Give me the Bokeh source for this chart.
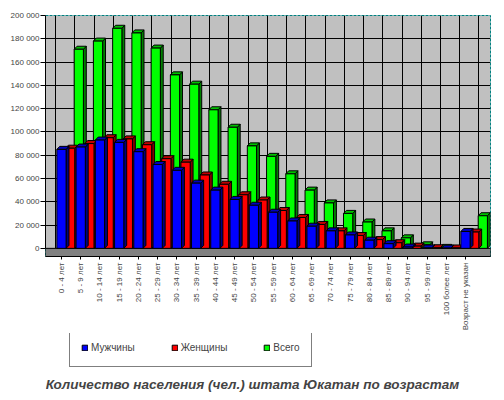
import math
from bokeh.plotting import figure
from bokeh.layouts import column
from bokeh.models import (ColumnDataSource, FixedTicker, Legend, LegendItem, Label, Range1d)
from bokeh.embed import file_html
from bokeh.resources import INLINE

# ---- data ----
categories = ["0 - 4 лет", "5 - 9 лет", "10 - 14 лет", "15 - 19 лет", "20 - 24 лет",
              "25 - 29 лет", "30 - 34 лет", "35 - 39 лет", "40 - 44 лет", "45 - 49 лет",
              "50 - 54 лет", "55 - 59 лет", "60 - 64 лет", "65 - 69 лет", "70 - 74 лет",
              "75 - 79 лет", "80 - 84 лет", "85 - 89 лет", "90 - 94 лет", "95 - 99 лет",
              "100 более лет", "Возраст не указан"]
men = [85000, 87000, 93000, 91000, 83000, 72000, 67000, 56000, 50000, 42000, 37000,
       31000, 23500, 19000, 15000, 11500, 7000, 4000, 1100, 300, 150, 14500]
women = [86000, 90000, 95000, 94000, 89000, 77000, 74000, 63000, 55000, 46000, 41500,
         32500, 26500, 20500, 15000, 11000, 7500, 4800, 1900, 500, 300, 14000]
total = [171000, 178000, 189000, 185000, 172000, 149000, 141000, 119000, 104000, 88000,
         79000, 64000, 50000, 39000, 30000, 22600, 15000, 9000, 3000, 800, 450, 28000]
series_names = ["Мужчины", "Женщины", "Всего"]
y_ticks = [0, 20000, 40000, 60000, 80000, 100000, 120000, 140000, 160000, 180000, 200000]
y_tick_labels = ["0", "20 000", "40 000", "60 000", "80 000", "100 000", "120 000",
                 "140 000", "160 000", "180 000", "200 000"]
title_text = "Количество населения (чел.) штата Юкатан по возрастам"

# ---- styling ----
front_colors = ["#0000FF", "#FF0000", "#00FF00"]
side_colors = ["#000080", "#800000", "#008000"]
top_colors = ["#0000C0", "#C00000", "#00C000"]
offsets = [0.0, 0.45, 0.9]       # depth shift of each series (category units)
bar_w = 0.48
depth_dx = 0.15
depth_dy = 2600
FONT = "Liberation Sans"
X0, X1 = -0.83, 22.3
Y0 = -7000

p = figure(width=496, height=333,
           x_range=Range1d(X0, X1), y_range=Range1d(Y0, 200000),
           output_backend="svg", toolbar_location=None,
           min_border_left=45, min_border_right=6, min_border_top=15, min_border_bottom=0,
           background_fill_color="#C0C0C0", border_fill_color="white")
p.outline_line_color = "#008080"
p.outline_line_dash = "3 1"

# wall grid
p.ygrid.ticker = FixedTicker(ticks=y_ticks)
p.ygrid.grid_line_color = "black"
p.ygrid.grid_line_width = 1
n = len(categories)
p.xgrid.ticker = FixedTicker(ticks=[i - 0.3 for i in range(n + 1)])
p.xgrid.grid_line_color = "black"

# floor strip
p.quad(left=[X0], right=[X1], bottom=[Y0], top=[0],
       fill_color="#808080", line_color="black", line_width=1)

series_values = [men, women, total]
sources = {}
for s in [2, 1, 0]:
    vals = series_values[s]
    centers = [i + offsets[s] for i in range(n)]
    side_xs, side_ys, top_xs, top_ys = [], [], [], []
    for c, v in zip(centers, vals):
        r = c + bar_w / 2
        l = c - bar_w / 2
        side_xs.append([r, r + depth_dx, r + depth_dx, r])
        side_ys.append([0, depth_dy, v + depth_dy, v])
        top_xs.append([l, r, r + depth_dx, l + depth_dx])
        top_ys.append([v, v, v + depth_dy, v + depth_dy])
    p.patches(side_xs, side_ys, fill_color=side_colors[s], line_color="black", line_width=1)
    p.patches(top_xs, top_ys, fill_color=top_colors[s], line_color="black", line_width=1)
    src = ColumnDataSource(dict(x=centers, top=vals))
    sources[s] = src
    p.vbar(x="x", top="top", bottom=0, width=bar_w, source=src,
           fill_color=front_colors[s], line_color="black", line_width=1)

# axes
p.yaxis.ticker = FixedTicker(ticks=y_ticks)
p.yaxis.major_label_overrides = {t: lab for t, lab in zip(y_ticks, y_tick_labels)}
p.yaxis.bounds = (0, 200000)
p.yaxis.major_tick_out = 5
p.yaxis.major_tick_in = 0
p.yaxis.minor_tick_line_color = None
p.yaxis.major_label_standoff = 1
p.yaxis.major_label_text_font = FONT
p.yaxis.major_label_text_font_size = "8px"
p.yaxis.axis_line_color = "black"

p.xaxis.ticker = FixedTicker(ticks=list(range(n)))
p.xaxis.major_label_overrides = {i: c for i, c in enumerate(categories)}
p.xaxis.major_label_orientation = math.pi / 2
p.xaxis.major_label_text_font = FONT
p.xaxis.major_label_text_font_size = "8px"
p.xaxis.major_label_standoff = 3
p.xaxis.major_tick_out = 3
p.xaxis.major_tick_in = 0
p.xaxis.minor_tick_line_color = None

# ---- legend + title strip below the chart ----
p2 = figure(width=496, height=59, x_range=Range1d(0, 1), y_range=Range1d(0, 1),
            output_backend="svg", toolbar_location=None,
            x_axis_location=None, y_axis_location=None,
            min_border_left=45, min_border_right=6, min_border_top=0, min_border_bottom=0,
            background_fill_color="white", border_fill_color="white")
p2.outline_line_color = None
p2.xgrid.visible = False
p2.ygrid.visible = False

# hidden proxies (same data sources) that only provide the legend swatches
proxies = []
for s in range(3):
    proxies.append(p2.vbar(x="x", top="top", bottom=0, width=bar_w, source=sources[s],
                           fill_color=front_colors[s], line_color="black", line_width=1,
                           visible=False))
items = [LegendItem(label=series_names[s], renderers=[proxies[s]]) for s in range(3)]
legend = Legend(items=items, orientation="horizontal", location=(24, 25),
                border_line_color="black", border_line_width=1,
                glyph_width=7, glyph_height=7, label_standoff=3,
                label_text_font=FONT, label_text_font_size="10px",
                label_height=16, spacing=36, padding=11, margin=0,
                inactive_fill_alpha=0)
p2.add_layout(legend, "center")

title = Label(x=207, y=8, x_units="screen", y_units="screen", text=title_text,
              text_align="center", text_baseline="middle", text_font=FONT,
              text_font_size="13.5px", text_font_style="bold italic")
p2.add_layout(title, "center")

page = column(p, p2, spacing=0)
open("out.html", "w").write(file_html(page, INLINE))
